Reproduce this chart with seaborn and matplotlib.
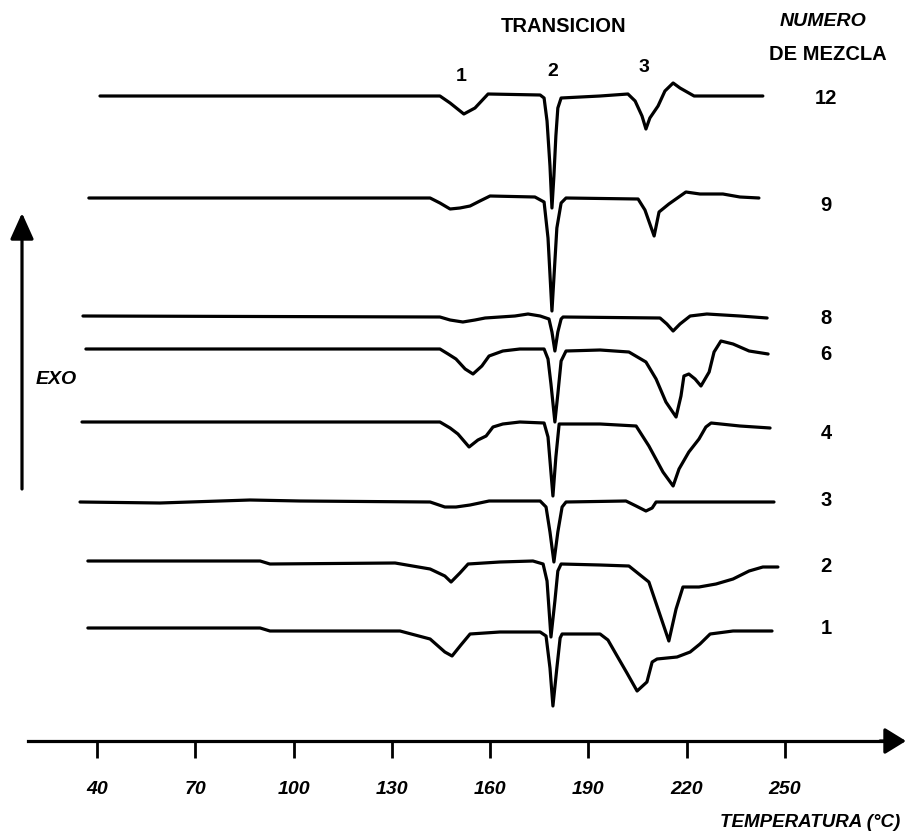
import matplotlib
matplotlib.use("Agg")
import matplotlib.pyplot as plt
import pandas as pd
import seaborn as sns

# DSC thermograms: temperature (deg C) and heat-flow signal (arbitrary units, endotherm down)
mixtures = ["12", "9", "8", "6", "4", "3", "2", "1"]

temp_12 = [40.9, 144.7, 147.8, 152.0, 155.4, 159.4, 175.3, 176.5, 177.4, 178.3, 178.9, 179.5,
           180.1, 180.7, 181.7, 193.6, 202.1, 204.3, 206.4, 207.6, 208.8, 211.3, 213.4, 215.9,
           218.0, 222.3, 243.3]
sig_12 = [0, 0, -7, -18, -12, 2, 1, -2, -25, -70, -112, -80,
          -40, -12, -2, 0, 2, -5, -20, -33, -22, -10, 5, 13,
          8, 0, 0]

temp_9 = [37.5, 141.7, 144.7, 147.8, 150.8, 153.9, 156.9, 160.0, 173.7, 176.5, 177.7, 178.9,
          179.5, 180.4, 181.7, 183.2, 205.2, 207.3, 210.1, 211.6, 214.6, 219.8, 224.1, 231.1,
          236.3, 242.1]
sig_9 = [0, 0, -5, -11, -10, -8, -3, 2, 1, -4, -40, -113,
         -80, -30, -5, 0, -1, -12, -38, -14, -6, 6, 4, 4,
         1, 0]

temp_8 = [35.7, 144.7, 147.8, 151.7, 155.4, 158.5, 167.6, 171.6, 175.3, 178.0, 178.9, 179.8,
          180.7, 181.7, 182.3, 211.9, 214.0, 215.9, 218.0, 221.1, 226.2, 236.3, 244.6]
sig_8 = [1, 0, -3, -5, -3, -1, 1, 3, 1, -2, -15, -34,
         -15, -2, 0, -1, -7, -14, -7, 1, 3, 1, -1]

temp_6 = [36.6, 144.7, 147.2, 149.6, 152.4, 154.8, 157.5, 159.7, 163.9, 169.1, 176.5, 177.7,
          178.6, 179.8, 180.7, 181.7, 183.2, 193.6, 202.4, 207.6, 210.7, 213.7, 216.8, 218.3,
          219.2, 220.7, 222.6, 224.4, 226.9, 228.4, 230.5, 234.2, 239.1, 244.9]
sig_6 = [0, 0, -5, -10, -20, -25, -17, -7, -2, 0, 0, -10,
         -35, -73, -45, -12, -2, -1, -3, -13, -30, -53, -68, -47,
         -27, -25, -30, -37, -23, -3, 8, 5, -2, -5]

temp_4 = [35.4, 144.7, 147.8, 150.2, 153.6, 156.3, 158.8, 160.9, 163.9, 169.1, 176.5, 177.7,
          179.2, 180.1, 181.1, 193.6, 204.6, 208.5, 212.8, 215.9, 217.7, 220.7, 223.8, 225.9,
          227.5, 236.3, 245.5]
sig_4 = [0, 0, -6, -12, -25, -18, -14, -5, -2, 0, -1, -15,
         -74, -35, -2, -2, -4, -24, -50, -64, -47, -30, -17, -5,
         -1, -4, -6]

temp_3 = [34.8, 59.2, 86.7, 102.0, 141.7, 146.2, 149.6, 153.9, 159.7, 175.3, 177.1, 178.3,
          179.5, 180.7, 182.0, 183.2, 201.5, 204.6, 207.6, 209.5, 210.7, 224.1, 246.7]
sig_3 = [0, -1, 2, 1, 0, -5, -5, -3, 1, 1, -5, -30,
         -60, -30, -5, 0, 1, -4, -9, -6, 0, 0, 0]

temp_2 = [37.2, 89.8, 92.8, 131.0, 141.7, 146.2, 148.1, 150.8, 153.3, 163.0, 173.1, 176.2,
          177.4, 178.6, 179.8, 180.7, 181.7, 193.6, 202.4, 208.5, 211.6, 214.6, 216.8, 218.9,
          223.8, 229.0, 234.2, 239.1, 243.3, 247.9]
sig_2 = [0, 0, -3, -2, -8, -15, -21, -12, -3, -1, 0, -3,
         -20, -76, -40, -10, -3, -4, -5, -21, -51, -80, -48, -26,
         -26, -23, -18, -10, -6, -6]

temp_1 = [37.2, 89.8, 92.8, 132.5, 141.7, 146.2, 148.4, 151.1, 153.9, 163.0, 175.3, 177.1,
          178.3, 179.2, 180.4, 181.4, 182.0, 193.6, 196.0, 198.8, 201.8, 204.9, 207.9, 209.5,
          211.0, 217.1, 221.1, 224.1, 227.2, 234.2, 246.1]
sig_1 = [0, 0, -3, -3, -11, -24, -28, -17, -6, -4, -4, -8,
         -40, -78, -40, -10, -6, -6, -12, -28, -45, -63, -54, -34,
         -31, -29, -24, -16, -6, -3, -3]

temp_ticks = [40, 70, 100, 130, 160, 190, 220, 250]
transitions = ["1", "2", "3"]

# layout: vertical stacking of the traces and the visible window
stack = {"12": 740, "9": 638, "8": 519, "6": 487, "4": 414, "3": 334, "2": 275, "1": 208}
x_range = (10.37, 288.84)
y_range = (0, 837)
axis_level = 95

series = {"12": (temp_12, sig_12), "9": (temp_9, sig_9), "8": (temp_8, sig_8),
          "6": (temp_6, sig_6), "4": (temp_4, sig_4), "3": (temp_3, sig_3),
          "2": (temp_2, sig_2), "1": (temp_1, sig_1)}

rows = []
for m in mixtures:
    t, s = series[m]
    for ti, si in zip(t, s):
        rows.append({"mezcla": m, "temperatura": ti, "flujo": si + stack[m]})
df = pd.DataFrame(rows)

sns.set_theme(style="white")
plt.rcParams["font.family"] = ["Liberation Sans", "DejaVu Sans"]

W, H = 912, 837
fig = plt.figure(figsize=(W / 100, H / 100), dpi=100)
ax = fig.add_axes([0, 0, 1, 1])

sns.lineplot(data=df, x="temperatura", y="flujo", units="mezcla", estimator=None,
             sort=False, color="black", linewidth=2.3, ax=ax, legend=False)

ax.set_xlim(*x_range)
ax.set_ylim(*y_range)
ax.set_xlabel("")
ax.set_ylabel("")
ax.set_yticks([])

def fx(px):
    return px / W

def fy(py):
    return 1 - py / H

def data_x(px):
    return x_range[0] + fx(px) * (x_range[1] - x_range[0])

for side in ["left", "top", "right"]:
    ax.spines[side].set_visible(False)
ax.spines["bottom"].set_position(("data", axis_level))
ax.spines["bottom"].set_bounds(data_x(28), data_x(888))
ax.spines["bottom"].set_linewidth(2.3)
ax.spines["bottom"].set_color("black")

ax.set_xticks(temp_ticks)
ax.set_xticklabels([str(v) for v in temp_ticks], fontweight="bold", fontstyle="italic",
                   fontsize=14)
ax.tick_params(axis="x", bottom=True, direction="out", length=12, width=2,
               pad=16, colors="black")

# temperature axis arrowhead
ax.annotate("", xy=(fx(906), fy(742)), xytext=(fx(880), fy(742)),
            xycoords="axes fraction", textcoords="axes fraction",
            arrowprops=dict(arrowstyle="-|>,head_length=0.65,head_width=0.4",
                            mutation_scale=20, lw=2.3, color="black",
                            shrinkA=0, shrinkB=0))
# exotherm direction arrow
ax.annotate("", xy=(fx(22), fy(214)), xytext=(fx(22), fy(490)),
            xycoords="axes fraction", textcoords="axes fraction",
            arrowprops=dict(arrowstyle="-|>,head_length=0.8,head_width=0.36",
                            mutation_scale=20, lw=2.3, color="black",
                            shrinkA=0, shrinkB=0))

def label(px, py, s, **kw):
    fig.text(fx(px), fy(py), s, ha="center", va="center", color="black", **kw)

label(564, 27, "TRANSICION", fontsize=14.5, fontweight="bold")
label(823, 21, "NUMERO", fontsize=14, fontweight="bold", fontstyle="italic")
label(828, 55, "DE MEZCLA", fontsize=14.5, fontweight="bold")
for s, (px, py) in zip(transitions, [(461, 77), (553, 72), (644, 67)]):
    label(px, py, s, fontsize=14, fontweight="bold")

label_y = {"12": 98, "9": 206, "8": 318, "6": 355, "4": 434, "3": 500, "2": 567, "1": 629}
for m in mixtures:
    label(826, label_y[m], m, fontsize=14.5, fontweight="bold")

label(56, 380, "EXO", fontsize=14, fontweight="bold", fontstyle="italic")
label(810, 823, "TEMPERATURA (°C)", fontsize=13.5, fontweight="bold", fontstyle="italic")

fig.savefig("out.png", dpi=100, facecolor="white")
